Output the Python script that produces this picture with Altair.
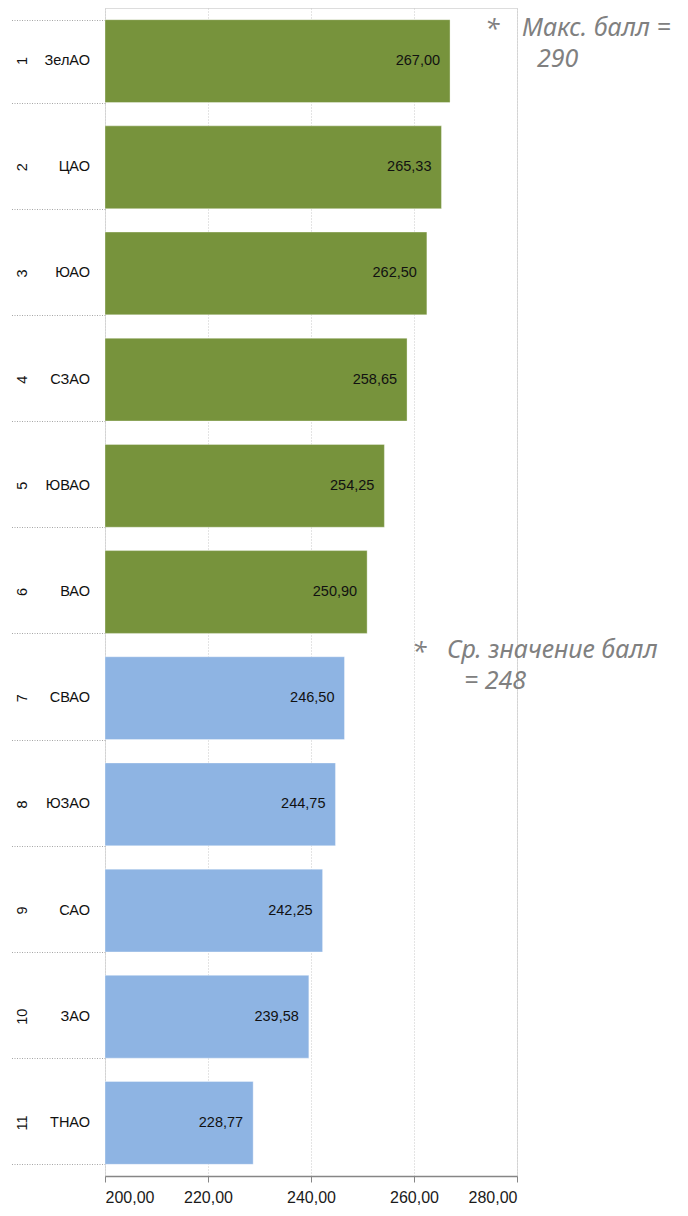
import altair as alt
import pandas as pd

ranks = ["1", "2", "3", "4", "5", "6", "7", "8", "9", "10", "11"]
districts = ["ЗелАО", "ЦАО", "ЮАО", "СЗАО", "ЮВАО", "ВАО", "СВАО", "ЮЗАО", "САО", "ЗАО", "ТНАО"]
scores = [267.00, 265.33, 262.50, 258.65, 254.25, 250.90, 246.50, 244.75, 242.25, 239.58, 228.77]
groups = ["above", "above", "above", "above", "above", "above",
          "below", "below", "below", "below", "below"]
x_ticks = [200, 220, 240, 260, 280]

note_max = ["*", "Макс. балл =", "290"]
note_avg = ["*", "Ср. значение балл", "= 248"]

df = pd.DataFrame({"rank": ranks, "district": districts, "score": scores, "group": groups})

FONT = "Liberation Sans"
GREY = "#808080"

y_enc = alt.Y("district:N", sort=districts,
              scale=alt.Scale(paddingInner=0.22, paddingOuter=0.11),
              axis=alt.Axis(title=None, labels=False, domain=False, grid=False,
                            tickBand="extent", tickSize=95, tickDash=[1, 1.5],
                            tickColor="#a6a6a6", tickWidth=1))

x_scale = alt.Scale(domain=[200, 280], nice=False, zero=False)

base = alt.Chart(df)

bars = base.mark_bar(stroke="#ffffff", strokeOpacity=0.35, strokeWidth=1).encode(
    x=alt.X("score:Q", scale=x_scale,
            axis=alt.Axis(title=None, values=x_ticks,
                          labelExpr="replace(format(datum.value, '.2f'), '.', ',')",
                          labelFont=FONT, labelFontSize=16, labelColor="#1a1a1a",
                          labelPadding=7, tickSize=6, tickColor="#868686",
                          domainColor="#868686", domainWidth=1.5,
                          grid=True, gridDash=[1, 2], gridColor="#c8c8c8")),
    x2=alt.datum(200),
    y=y_enc,
    color=alt.Color("group:N", scale=alt.Scale(domain=["above", "below"],
                                               range=["#77933C", "#8EB4E3"]),
                    legend=None),
)

values = base.transform_calculate(
    lbl="replace(format(datum.score, '.2f'), '.', ',')"
).mark_text(align="right", baseline="middle", dx=-10, font=FONT, fontSize=14.5,
            color="#111111").encode(
    x=alt.X("score:Q", scale=x_scale),
    y=alt.Y("district:N", sort=districts),
    text="lbl:N",
)

names = base.mark_text(align="right", baseline="middle", font=FONT, fontSize=14.5,
                       color="#111111").encode(
    x=alt.value(-15),
    y=alt.Y("district:N", sort=districts),
    text="district:N",
)

rank_txt = base.mark_text(align="center", baseline="middle", font=FONT, fontSize=14.5,
                          color="#111111", angle=270).encode(
    x=alt.value(-82),
    y=alt.Y("district:N", sort=districts),
    text="rank:N",
)


def note(txt, xpos, ypos, size=25):
    return alt.Chart(pd.DataFrame({"t": [txt]})).mark_text(
        align="left", baseline="alphabetic", font="Noto Sans", fontSize=size,
        fontStyle="italic", color=GREY
    ).encode(x=alt.value(xpos), y=alt.value(ypos), text="t:N")


notes = [
    note(note_max[0], 380, 29, 26),
    note(note_max[1], 417, 28),
    note(note_max[2], 432, 59),
    note(note_avg[0], 307, 652, 26),
    note(note_avg[1], 342, 650),
    note(note_avg[2], 359, 681),
]

chart = alt.layer(bars, values, names, rank_txt, *notes).properties(
    width=412, height=1168,
    autosize=alt.AutoSizeParams(type="none"),
    padding={"left": 97, "top": 0, "right": 163, "bottom": 32},
).configure_view(stroke=None).configure(background="#ffffff")

chart.save("out.html", embed_options={"renderer": "svg", "actions": False})
